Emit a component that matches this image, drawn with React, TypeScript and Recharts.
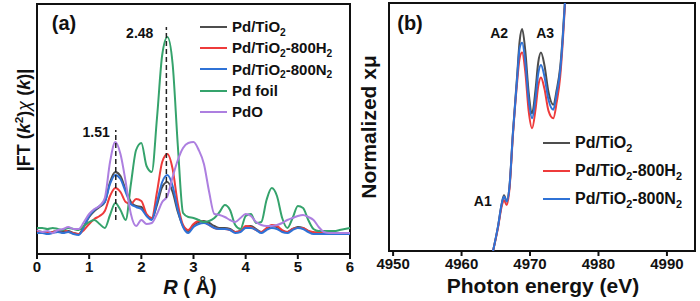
import React from 'react';
import {
  LineChart, Line, XAxis, YAxis, ReferenceLine, ReferenceDot, ReferenceArea, Legend,
} from 'recharts';

const FONT = 'Arial, "Liberation Sans", Helvetica, sans-serif';
const INK = '#111';

// ---- panel (a): FT-EXAFS, R in Å, magnitudes in arbitrary units ----
const rValues = [
  0, 0.1, 0.2, 0.3, 0.4, 0.5, 0.6, 0.7, 0.8, 0.9,
  1, 1.1, 1.2, 1.3, 1.4, 1.5, 1.6, 1.7, 1.8, 1.9,
  2, 2.1, 2.2, 2.3, 2.4, 2.5, 2.6, 2.7, 2.8, 2.9,
  3, 3.1, 3.2, 3.3, 3.4, 3.5, 3.6, 3.7, 3.8, 3.9,
  4, 4.1, 4.2, 4.3, 4.4, 4.5, 4.6, 4.7, 4.8, 4.9,
  5, 5.1, 5.2, 5.3, 5.4, 5.5, 5.6, 5.7, 5.8, 5.9,
  6,
];
const ftPdTiO2 = [
  23, 22, 21, 22, 23, 22, 23, 21, 20, 28,
  37, 43, 47, 52, 72, 82, 78, 64, 52, 48,
  47, 39, 35, 49, 67, 72, 62, 42, 28, 23,
  29, 32, 33, 31, 28, 26, 26, 25, 22, 23,
  27, 28, 25, 22, 25, 28, 27, 23, 22, 25,
  27, 26, 23, 21, 22, 22, 21, 21, 21, 21,
  21,
];
const ftH2 = [
  22, 22, 21, 22, 23, 24, 22, 21, 20, 24,
  30, 35, 38, 43, 58, 66, 62, 52, 50, 55,
  53, 40, 36, 62, 92, 100, 85, 50, 29, 24,
  30, 33, 32, 29, 26, 25, 25, 24, 22, 23,
  28, 27, 24, 22, 26, 29, 28, 24, 22, 25,
  26, 26, 23, 22, 21, 21, 21, 21, 21, 21,
  21,
];
const ftN2 = [
  21, 21, 20, 21, 22, 21, 22, 20, 19, 27,
  38, 44, 48, 52, 70, 79, 75, 62, 50, 47,
  45, 38, 34, 52, 72, 79, 68, 44, 27, 21,
  27, 30, 31, 29, 26, 25, 25, 24, 21, 22,
  26, 26, 24, 21, 24, 26, 25, 22, 21, 24,
  26, 25, 22, 20, 20, 20, 20, 20, 20, 20,
  20,
];
const ftFoil = [
  26, 26, 25, 26, 25, 24, 26, 25, 24, 28,
  32, 34, 30, 26, 39, 51, 44, 34, 70, 104,
  111, 88, 82, 136, 199, 217, 190, 108, 41, 37,
  36, 34, 32, 33, 36, 42, 49, 44, 29, 25,
  38, 40, 31, 32, 54, 66, 58, 36, 26, 36,
  48, 46, 34, 25, 23, 23, 23, 23, 24, 25,
  26,
];
const ftPdO = [
  24, 22, 23, 21, 24, 25, 27, 25, 25, 32,
  40, 45, 48, 56, 92, 112, 100, 72, 40, 28,
  34, 30, 31, 40, 52, 58, 77, 94, 106, 111,
  112, 104, 90, 62, 40, 39, 37, 34, 32, 36,
  40, 38, 32, 29, 28, 28, 29, 31, 34, 36,
  38, 39, 37, 34, 27, 22, 21, 21, 21, 21,
  21,
];
const rTicks = [0, 1, 2, 3, 4, 5, 6];
const peakMarks = [
  { r: 1.51, label: '1.51', from: 34, to: 124, labelY: 122, gap: 6 },
  { r: 2.48, label: '2.48', from: 56, to: 227, labelY: 221, gap: 13 },
];

// ---- panel (b): XANES, photon energy in eV ----
const energies = [
  4964.6, 4965.3, 4965.9, 4966.2, 4966.6, 4967.0, 4967.5, 4968.1, 4968.5, 4968.85,
  4969.3, 4969.8, 4970.3, 4970.8, 4971.2, 4971.6, 4972.1, 4972.7, 4973.4, 4973.9,
  4974.4, 4974.8, 4975.1, 4975.5,
];
const muPdTiO2 = [
  0, 0.19, 0.39, 0.45, 0.4, 0.52, 0.95, 1.4, 1.7, 1.79,
  1.62, 1.28, 1.11, 1.3, 1.52, 1.6, 1.5, 1.28, 1.18, 1.3,
  1.48, 1.75, 2.02, 2.4,
];
const muH2 = [
  0, 0.18, 0.37, 0.41, 0.37, 0.5, 0.93, 1.35, 1.56, 1.6,
  1.45, 1.13, 0.99, 1.14, 1.33, 1.4, 1.31, 1.13, 1.07, 1.2,
  1.4, 1.7, 1.98, 2.4,
];
const muN2 = [
  0, 0.19, 0.39, 0.44, 0.4, 0.52, 0.95, 1.38, 1.64, 1.68,
  1.53, 1.22, 1.07, 1.23, 1.43, 1.5, 1.41, 1.22, 1.14, 1.27,
  1.45, 1.73, 2.0, 2.4,
];
const eTicks = [4950, 4960, 4970, 4980, 4990];
const featureLabels = [
  { e: 4963.1, v: 0.4, text: 'A1' },
  { e: 4965.5, v: 1.76, text: 'A2' },
  { e: 4972.2, v: 1.76, text: 'A3' },
];

const ftData = rValues.map((r, i) => ({
  r, pdTiO2: ftPdTiO2[i], h2: ftH2[i], n2: ftN2[i], foil: ftFoil[i], pdo: ftPdO[i],
}));
const xanesData = energies.map((e, i) => ({
  e, pdTiO2: muPdTiO2[i], h2: muH2[i], n2: muN2[i],
}));

const SERIES_ORDER = ['pdTiO2', 'h2', 'n2', 'foil', 'pdo'];
const COLORS = {
  pdTiO2: '#4d4d4d',
  h2: '#ee3b3b',
  n2: '#2f72d6',
  foil: '#35a36c',
  pdo: '#ad7fe0',
};

const sub = (t: string) => (
  <span style={{ fontSize: '0.68em', position: 'relative', top: '0.35em' }}>{t}</span>
);
const LABELS: Record<string, React.ReactNode> = {
  pdTiO2: <>Pd/TiO{sub('2')}</>,
  h2: <>Pd/TiO{sub('2')}-800H{sub('2')}</>,
  n2: <>Pd/TiO{sub('2')}-800N{sub('2')}</>,
  foil: <>Pd foil</>,
  pdo: <>PdO</>,
};

const makeLegend = (rowH: number, fontSize: number) => (props: any) => {
  const items = [...(props.payload || [])].sort(
    (a: any, b: any) => SERIES_ORDER.indexOf(a.dataKey) - SERIES_ORDER.indexOf(b.dataKey),
  );
  return (
    <div>
      {items.map((item: any) => (
        <div key={item.dataKey} style={{ display: 'flex', alignItems: 'center', height: rowH }}>
          <span style={{ display: 'inline-block', width: 27, height: 2, background: item.color, marginRight: 5 }} />
          <span style={{ fontSize, fontWeight: 700, fontFamily: FONT, color: INK, whiteSpace: 'nowrap', lineHeight: 1 }}>
            {LABELS[item.dataKey]}
          </span>
        </div>
      ))}
    </div>
  );
};

const tickStyle = { fontSize: 15, fontWeight: 700, fill: INK, fontFamily: FONT };

const Txt: React.FC<{ x: number; y: number; size: number; rotate?: boolean; children: React.ReactNode }> = ({
  x, y, size, rotate, children,
}) => (
  <div
    style={{
      position: 'absolute', left: x, top: y,
      transform: `translate(-50%, -50%)${rotate ? ' rotate(-90deg)' : ''}`,
      fontSize: size, fontWeight: 700, fontFamily: FONT, color: INK,
      whiteSpace: 'nowrap', lineHeight: 1,
    }}
  >
    {children}
  </div>
);

const App: React.FC = () => {
  return (
    <div style={{ position: 'absolute', left: 0, top: 0, width: 700, height: 301, background: '#fff' }}>
      <div style={{ position: 'absolute', left: 0, top: 0 }}>
        <LineChart width={355} height={301} data={ftData} margin={{ top: 4, right: 5, left: 37, bottom: 0 }}>
          <XAxis
            dataKey="r" type="number" domain={[0, 6]} ticks={rTicks} height={47}
            axisLine={false} tickLine={{ stroke: INK, strokeWidth: 2 }} tickSize={5} tickMargin={2}
            tick={tickStyle} interval={0}
          />
          <YAxis hide domain={[0, 250]} allowDataOverflow />
          <ReferenceArea x1={0} x2={6} y1={0} y2={250} fill="none" stroke={INK} strokeWidth={2} />
          <Line dataKey="pdTiO2" stroke={COLORS.pdTiO2} strokeWidth={2} dot={false} type="monotone" isAnimationActive={false} />
          <Line dataKey="h2" stroke={COLORS.h2} strokeWidth={2} dot={false} type="monotone" isAnimationActive={false} />
          <Line dataKey="n2" stroke={COLORS.n2} strokeWidth={2} dot={false} type="monotone" isAnimationActive={false} />
          <Line dataKey="foil" stroke={COLORS.foil} strokeWidth={2} dot={false} type="monotone" isAnimationActive={false} />
          <Line dataKey="pdo" stroke={COLORS.pdo} strokeWidth={2} dot={false} type="monotone" isAnimationActive={false} />
          {peakMarks.map((m) => (
            <ReferenceLine
              key={m.label}
              segment={[{ x: m.r, y: m.from }, { x: m.r, y: m.to }]}
              stroke="#222" strokeWidth={1.5} strokeDasharray="5 3"
            />
          ))}
          {peakMarks.map((m) => (
            <ReferenceDot
              key={'l' + m.label} x={m.r} y={m.labelY} r={0} fill="none" stroke="none"
              label={{ value: m.label, position: 'left', offset: m.gap, fill: INK, fontSize: 14, fontWeight: 700, fontFamily: FONT }}
            />
          ))}
          <Legend
            layout="vertical" align="center" verticalAlign="middle"
            wrapperStyle={{ left: 200, top: 16, width: 'auto' }}
            content={makeLegend(21.3, 15)}
          />
        </LineChart>
      </div>

      <div style={{ position: 'absolute', left: 350, top: 0 }}>
        <LineChart width={350} height={301} data={xanesData} margin={{ top: 3, right: 5, left: 39, bottom: 0 }}>
          <XAxis
            dataKey="e" type="number" domain={[4949.4, 4994.1]} allowDataOverflow ticks={eTicks} height={50}
            axisLine={false} tickLine={{ stroke: INK, strokeWidth: 2 }} tickSize={5} tickMargin={2}
            tick={tickStyle} interval={0}
          />
          <YAxis hide domain={[0, 2]} allowDataOverflow />
          <ReferenceArea x1={4949.4} x2={4994.1} y1={0} y2={2} fill="none" stroke={INK} strokeWidth={2} />
          <Line dataKey="pdTiO2" stroke={COLORS.pdTiO2} strokeWidth={2} dot={false} type="monotone" isAnimationActive={false} />
          <Line dataKey="h2" stroke={COLORS.h2} strokeWidth={2} dot={false} type="monotone" isAnimationActive={false} />
          <Line dataKey="n2" stroke={COLORS.n2} strokeWidth={2} dot={false} type="monotone" isAnimationActive={false} />
          {featureLabels.map((f) => (
            <ReferenceDot
              key={f.text} x={f.e} y={f.v} r={0} fill="none" stroke="none"
              label={{ value: f.text, position: 'center', fill: INK, fontSize: 14, fontWeight: 700, fontFamily: FONT }}
            />
          ))}
          <Legend
            layout="vertical" align="center" verticalAlign="middle"
            wrapperStyle={{ left: 193, top: 129, width: 'auto' }}
            content={makeLegend(28, 16)}
          />
        </LineChart>
      </div>

      <Txt x={64} y={23} size={20}>(a)</Txt>
      <Txt x={410} y={23} size={20}>(b)</Txt>
      <Txt x={23} y={120} size={18} rotate>
        |FT (<i>k</i><sup style={{ fontSize: '0.65em' }}>2</sup>)<i style={{ fontWeight: 400 }}>χ</i> (<i>k</i>)|
      </Txt>
      <Txt x={368} y={127} size={21} rotate>Normalized xμ</Txt>
      <Txt x={190} y={287} size={20}><i>R</i> ( Å)</Txt>
      <Txt x={543} y={285} size={21}>Photon energy (eV)</Txt>
    </div>
  );
};

export default App;
